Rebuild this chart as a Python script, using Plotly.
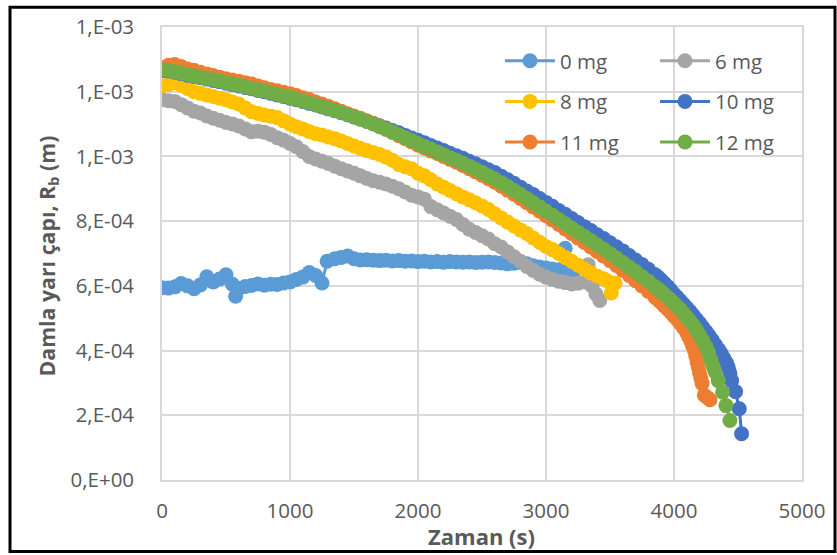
import plotly.graph_objects as go

# Damla yarı çapı (m) zamanla — her katkı miktarı için ölçüm serileri
t_0mg = [0, 50, 100, 150, 200, 250, 300, 350, 400, 450, 500, 550, 575, 600, 650, 700, 750, 800, 850,
         900, 950, 1000, 1050, 1100, 1150, 1200, 1250, 1290, 1350, 1400, 1450, 1500, 1550, 1600, 1650,
         1700, 1750, 1800, 1850, 1900, 1950, 2000, 2050, 2100, 2150, 2200, 2250, 2300, 2350, 2400, 2450,
         2500, 2550, 2600, 2650, 2700, 2750, 2800, 2850, 2900, 2950, 3000, 3050, 3100, 3150, 3180, 3210]
r_0mg = [0.594, 0.593, 0.597, 0.607, 0.600, 0.591, 0.603, 0.628, 0.612, 0.621, 0.634, 0.605, 0.568, 0.592,
         0.598, 0.601, 0.606, 0.602, 0.605, 0.604, 0.609, 0.612, 0.620, 0.627, 0.641, 0.632, 0.609, 0.676,
         0.684, 0.688, 0.692, 0.684, 0.680, 0.681, 0.679, 0.678, 0.679, 0.677, 0.678, 0.676, 0.677, 0.675,
         0.676, 0.674, 0.675, 0.673, 0.675, 0.674, 0.673, 0.674, 0.672, 0.673, 0.674, 0.672, 0.671, 0.668,
         0.670, 0.672, 0.668, 0.662, 0.658, 0.655, 0.652, 0.650, 0.716, 0.646, 0.640]

t_6mg = [0, 50, 100, 150, 200, 250, 300, 350, 400, 450, 500, 550, 600, 650, 700, 750, 800, 850, 900, 950,
         1000, 1050, 1100, 1150, 1200, 1250, 1300, 1350, 1400, 1450, 1500, 1550, 1600, 1650, 1700, 1750,
         1800, 1850, 1900, 1950, 2000, 2050, 2100, 2150, 2200, 2250, 2300, 2350, 2400, 2450, 2500, 2550,
         2600, 2650, 2700, 2750, 2800, 2850, 2900, 2950, 3000, 3050, 3100, 3150, 3200, 3250, 3300, 3330,
         3360, 3390, 3420]
r_6mg = [1.175, 1.172, 1.170, 1.160, 1.150, 1.140, 1.134, 1.125, 1.118, 1.112, 1.105, 1.100, 1.094, 1.085,
         1.076, 1.078, 1.075, 1.068, 1.058, 1.050, 1.040, 1.030, 1.015, 1.000, 0.992, 0.985, 0.978, 0.970,
         0.962, 0.955, 0.948, 0.940, 0.932, 0.925, 0.920, 0.915, 0.908, 0.900, 0.890, 0.880, 0.875, 0.868,
         0.845, 0.835, 0.825, 0.815, 0.805, 0.790, 0.775, 0.765, 0.755, 0.745, 0.730, 0.720, 0.705, 0.690,
         0.676, 0.660, 0.648, 0.636, 0.627, 0.620, 0.614, 0.610, 0.606, 0.608, 0.612, 0.665, 0.600, 0.575,
         0.555]

t_8mg = [0, 50, 100, 150, 200, 250, 300, 350, 400, 450, 500, 550, 600, 650, 700, 750, 800, 850, 900, 950,
         1000, 1050, 1100, 1150, 1200, 1250, 1300, 1350, 1400, 1450, 1500, 1550, 1600, 1650, 1700, 1750,
         1800, 1850, 1900, 1950, 2000, 2050, 2100, 2150, 2200, 2250, 2300, 2350, 2400, 2450, 2500, 2550,
         2600, 2650, 2700, 2750, 2800, 2850, 2900, 2950, 3000, 3050, 3100, 3150, 3200, 3250, 3300, 3350,
         3400, 3450, 3480, 3510, 3540]
r_8mg = [1.218, 1.222, 1.228, 1.220, 1.210, 1.200, 1.195, 1.190, 1.185, 1.180, 1.175, 1.168, 1.162, 1.150,
         1.138, 1.133, 1.128, 1.124, 1.120, 1.110, 1.100, 1.092, 1.085, 1.077, 1.070, 1.066, 1.060, 1.055,
         1.048, 1.040, 1.032, 1.025, 1.018, 1.012, 1.006, 0.998, 0.988, 0.975, 0.968, 0.962, 0.948, 0.940,
         0.928, 0.915, 0.905, 0.895, 0.885, 0.875, 0.866, 0.857, 0.847, 0.836, 0.823, 0.810, 0.797, 0.785,
         0.773, 0.762, 0.748, 0.735, 0.722, 0.712, 0.700, 0.688, 0.676, 0.664, 0.652, 0.640, 0.630, 0.622,
         0.615, 0.578, 0.608]

t_10mg = [0, 50, 100, 150, 200, 250, 300, 350, 400, 450, 500, 550, 600, 650, 700, 750, 800, 850, 900, 950,
          1000, 1050, 1100, 1150, 1200, 1250, 1300, 1350, 1400, 1450, 1500, 1550, 1600, 1650, 1700, 1750,
          1800, 1850, 1900, 1950, 2000, 2050, 2100, 2150, 2200, 2250, 2300, 2350, 2400, 2450, 2500, 2550,
          2600, 2650, 2700, 2750, 2800, 2850, 2900, 2950, 3000, 3050, 3100, 3150, 3200, 3250, 3300, 3350,
          3400, 3450, 3500, 3550, 3600, 3650, 3700, 3750, 3800, 3850, 3875, 3900, 3925, 3950, 3975, 4000,
          4025, 4050, 4075, 4100, 4125, 4150, 4175, 4200, 4225, 4250, 4275, 4300, 4325, 4350, 4370, 4390,
          4410, 4424, 4437, 4450, 4481, 4510, 4528]
r_10mg = [1.265, 1.264, 1.260, 1.256, 1.251, 1.247, 1.243, 1.239, 1.235, 1.231, 1.226, 1.222, 1.218, 1.213,
          1.209, 1.204, 1.200, 1.195, 1.190, 1.185, 1.180, 1.175, 1.170, 1.164, 1.159, 1.153, 1.147, 1.141,
          1.135, 1.129, 1.122, 1.116, 1.109, 1.102, 1.095, 1.088, 1.080, 1.073, 1.065, 1.057, 1.050, 1.042,
          1.034, 1.026, 1.018, 1.010, 1.002, 0.994, 0.985, 0.977, 0.968, 0.959, 0.950, 0.939, 0.928, 0.917,
          0.905, 0.893, 0.882, 0.870, 0.858, 0.846, 0.833, 0.821, 0.808, 0.796, 0.783, 0.771, 0.758, 0.746,
          0.733, 0.721, 0.708, 0.694, 0.680, 0.666, 0.651, 0.635, 0.627, 0.618, 0.608, 0.598, 0.587, 0.575,
          0.565, 0.554, 0.543, 0.532, 0.521, 0.509, 0.497, 0.485, 0.472, 0.459, 0.446, 0.432, 0.417, 0.402,
          0.390, 0.376, 0.362, 0.348, 0.330, 0.307, 0.273, 0.220, 0.143]

t_11mg = [0, 50, 100, 150, 200, 250, 300, 350, 400, 450, 500, 550, 600, 650, 700, 750, 800, 850, 900, 950,
          1000, 1050, 1100, 1150, 1200, 1250, 1300, 1350, 1400, 1450, 1500, 1550, 1600, 1650, 1700, 1750,
          1800, 1850, 1900, 1950, 2000, 2050, 2100, 2150, 2200, 2250, 2300, 2350, 2400, 2450, 2500, 2550,
          2600, 2650, 2700, 2750, 2800, 2850, 2900, 2950, 3000, 3050, 3100, 3150, 3200, 3250, 3300, 3350,
          3400, 3450, 3500, 3550, 3600, 3650, 3700, 3750, 3800, 3850, 3875, 3900, 3925, 3950, 3975, 4000,
          4025, 4050, 4075, 4100, 4115, 4130, 4145, 4160, 4170, 4180, 4190, 4200, 4210, 4220, 4237, 4260,
          4281]
r_11mg = [1.274, 1.282, 1.284, 1.278, 1.270, 1.266, 1.260, 1.255, 1.250, 1.245, 1.240, 1.236, 1.232, 1.228,
          1.224, 1.218, 1.212, 1.207, 1.203, 1.198, 1.194, 1.188, 1.181, 1.176, 1.168, 1.162, 1.155, 1.147,
          1.140, 1.132, 1.125, 1.118, 1.110, 1.102, 1.094, 1.084, 1.074, 1.064, 1.055, 1.045, 1.035, 1.026,
          1.017, 1.009, 1.000, 0.991, 0.982, 0.972, 0.962, 0.952, 0.942, 0.931, 0.920, 0.908, 0.896, 0.883,
          0.870, 0.857, 0.844, 0.831, 0.817, 0.804, 0.790, 0.776, 0.762, 0.748, 0.734, 0.720, 0.706, 0.692,
          0.678, 0.663, 0.648, 0.632, 0.616, 0.600, 0.583, 0.566, 0.557, 0.548, 0.538, 0.528, 0.518, 0.507,
          0.496, 0.484, 0.470, 0.455, 0.443, 0.430, 0.415, 0.400, 0.383, 0.365, 0.348, 0.330, 0.314, 0.298,
          0.262, 0.255, 0.248]

t_12mg = [0, 50, 100, 150, 200, 250, 300, 350, 400, 450, 500, 550, 600, 650, 700, 750, 800, 850, 900, 950,
          1000, 1050, 1100, 1150, 1200, 1250, 1300, 1350, 1400, 1450, 1500, 1550, 1600, 1650, 1700, 1750,
          1800, 1850, 1900, 1950, 2000, 2050, 2100, 2150, 2200, 2250, 2300, 2350, 2400, 2450, 2500, 2550,
          2600, 2650, 2700, 2750, 2800, 2850, 2900, 2950, 3000, 3050, 3100, 3150, 3200, 3250, 3300, 3350,
          3400, 3450, 3500, 3550, 3600, 3650, 3700, 3750, 3800, 3850, 3875, 3900, 3925, 3950, 3975, 4000,
          4025, 4050, 4075, 4100, 4125, 4150, 4175, 4200, 4225, 4250, 4270, 4290, 4305, 4320, 4346, 4380,
          4406, 4437]
r_12mg = [1.267, 1.266, 1.262, 1.258, 1.253, 1.249, 1.245, 1.241, 1.237, 1.233, 1.228, 1.224, 1.220, 1.215,
          1.211, 1.206, 1.202, 1.197, 1.192, 1.187, 1.182, 1.177, 1.171, 1.166, 1.160, 1.154, 1.148, 1.142,
          1.136, 1.129, 1.122, 1.115, 1.108, 1.100, 1.092, 1.084, 1.076, 1.067, 1.058, 1.049, 1.040, 1.031,
          1.023, 1.014, 1.005, 0.996, 0.988, 0.979, 0.970, 0.960, 0.950, 0.940, 0.930, 0.919, 0.907, 0.895,
          0.883, 0.870, 0.857, 0.844, 0.831, 0.818, 0.805, 0.792, 0.779, 0.766, 0.753, 0.740, 0.727, 0.714,
          0.700, 0.686, 0.672, 0.658, 0.644, 0.629, 0.614, 0.598, 0.590, 0.582, 0.574, 0.565, 0.556, 0.546,
          0.536, 0.526, 0.515, 0.503, 0.491, 0.478, 0.464, 0.448, 0.431, 0.412, 0.393, 0.370, 0.352, 0.335,
          0.307, 0.271, 0.230, 0.184]

series_names = ["0 mg", "6 mg", "8 mg", "10 mg", "11 mg", "12 mg"]
series_t = [t_0mg, t_6mg, t_8mg, t_10mg, t_11mg, t_12mg]
series_r = [r_0mg, r_6mg, r_8mg, r_10mg, r_11mg, r_12mg]
series_colors = ["#5B9BD5", "#A5A5A5", "#FFC000", "#4472C4", "#ED7D31", "#70AD47"]
series_legend = ["legend", "legend2", "legend", "legend2", "legend", "legend2"]

x_ticks = [0, 1000, 2000, 3000, 4000, 5000]
x_tick_labels = ["0", "1000", "2000", "3000", "4000", "5000"]
y_ticks = [0, 2e-4, 4e-4, 6e-4, 8e-4, 1.0e-3, 1.2e-3, 1.4e-3]
y_tick_labels = ["0,E+00", "2,E-04", "4,E-04", "6,E-04", "8,E-04", "1,E-03", "1,E-03", "1,E-03"]

FONT = "Open Sans"
GREY_TXT = "#595959"
GRID = "#D9D9D9"

fig = go.Figure()
for name, t, r, col, lg in zip(series_names, series_t, series_r, series_colors, series_legend):
    fig.add_trace(go.Scatter(
        x=t, y=[v * 1e-3 for v in r], name=name, mode="lines+markers",
        line=dict(color=col, width=3),
        marker=dict(color=col, size=15, symbol="circle", line=dict(width=0)),
        legend=lg, legendgroup=name,
    ))

W, H = 837, 555
L, R, T, B = 162, 35, 24, 75
pw, ph = W - L - R, H - T - B


def px_x(px):
    return (px - L) / pw


def px_y(py):
    return (H - B - py) / ph


legend_common = dict(
    xanchor="left", yanchor="top", bgcolor="rgba(0,0,0,0)", borderwidth=0,
    font=dict(family=FONT, size=20.5, color=GREY_TXT), tracegroupgap=11, itemwidth=50,
)

fig.update_layout(
    width=W, height=H,
    margin=dict(l=L, r=R, t=T, b=B, pad=0),
    paper_bgcolor="white", plot_bgcolor="white",
    font=dict(family=FONT, color=GREY_TXT),
    showlegend=True,
    legend=dict(x=px_x(500), y=px_y(38), **legend_common),
    legend2=dict(x=px_x(655), y=px_y(38), **legend_common),
    xaxis=dict(
        range=[0, 5000], tickvals=x_ticks, ticktext=x_tick_labels,
        showgrid=True, gridcolor=GRID, gridwidth=1.6,
        zeroline=False, showline=True, mirror=True, linecolor=GRID, linewidth=1.6,
        ticks="", ticklabelstandoff=12,
        tickfont=dict(family=FONT, size=20.5, color=GREY_TXT),
    ),
    yaxis=dict(
        range=[0, 1.4e-3], tickvals=y_ticks, ticktext=y_tick_labels,
        showgrid=True, gridcolor=GRID, gridwidth=1.6,
        zeroline=False, showline=True, mirror=True, linecolor=GRID, linewidth=1.6,
        ticks="", ticklabelstandoff=22,
        tickfont=dict(family=FONT, size=20.5, color=GREY_TXT),
    ),
    annotations=[
        dict(text="<b>Zaman (s)</b>", xref="paper", yref="paper",
             x=px_x(481), y=px_y(536), xanchor="center", yanchor="middle", showarrow=False,
             font=dict(family=FONT, size=22, color=GREY_TXT)),
        dict(text="<b>Damla yarı çapı, R<sub>b</sub> (m)</b>", xref="paper", yref="paper",
             x=px_x(47), y=px_y(255), xanchor="center", yanchor="middle", showarrow=False,
             textangle=-90, font=dict(family=FONT, size=21.3, color=GREY_TXT)),
    ],
    shapes=[
        dict(type="rect", xref="paper", yref="paper",
             x0=px_x(10), x1=px_x(835), y0=px_y(552), y1=px_y(4),
             line=dict(color="black", width=3), fillcolor="rgba(0,0,0,0)", layer="above"),
    ],
)

fig.write_html("out.html", config={"displayModeBar": False})
